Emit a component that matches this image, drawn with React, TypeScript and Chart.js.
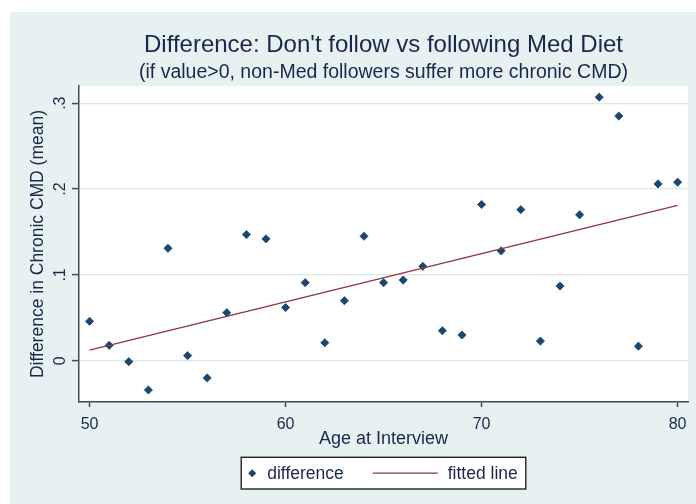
import { useEffect, useRef } from 'react';
import { Chart, registerables } from 'chart.js';

Chart.register(...registerables);

// ---- data ----
const ages = [50, 51, 52, 53, 54, 55, 56, 57, 58, 59, 60, 61, 62, 63, 64, 65, 66, 67, 68, 69, 70, 71, 72, 73, 74, 75, 76, 77, 78, 79, 80];
const differences = [0.046, 0.018, -0.001, -0.034, 0.131, 0.006, -0.020, 0.056, 0.147, 0.142, 0.062, 0.091, 0.021, 0.070, 0.145, 0.091, 0.094, 0.110, 0.035, 0.030, 0.182, 0.128, 0.176, 0.023, 0.087, 0.170, 0.307, 0.285, 0.017, 0.206, 0.208];
const fitAges = [50, 80];
const fitValues = [0.0125, 0.181];
const xTicks = [50, 60, 70, 80];
const xTickLabels = ['50', '60', '70', '80'];
const yTicks = [0, 0.1, 0.2, 0.3];
const yTickLabels = ['0', '.1', '.2', '.3'];
const titleText = "Difference: Don't follow vs following Med Diet";
const subtitleText = '(if value>0, non-Med followers suffer more chronic CMD)';
const xTitle = 'Age at Interview';
const yTitle = 'Difference in Chronic CMD (mean)';
const legendLabels = ['difference', 'fitted line'];

// ---- styles ----
const FONT = "'Liberation Sans', Arial, sans-serif";
const TEXT = '#18284a';
const BG = '#e7f1f2';
const GRID = '#d9e7ea';
const AXIS = '#4a4a4a';
const NAVY = '#1a476f';
const MAROON = '#90353b';

const plotBgPlugin = {
  id: 'plotBg',
  beforeDraw(chart: any) {
    const { ctx, chartArea: a } = chart;
    ctx.save();
    ctx.fillStyle = '#ffffff';
    ctx.fillRect(a.left, a.top, a.right - a.left, a.bottom - a.top);
    ctx.restore();
  },
};

const yTickLabelPlugin = {
  id: 'yTickLabels',
  afterDraw(chart: any) {
    const { ctx, chartArea } = chart;
    const ys = chart.scales.y;
    ctx.save();
    ctx.font = `16px ${FONT}`;
    ctx.fillStyle = TEXT;
    ctx.textAlign = 'center';
    ctx.textBaseline = 'middle';
    yTicks.forEach((v, i) => {
      const py = ys.getPixelForValue(v);
      ctx.save();
      ctx.translate(chartArea.left - 18.5, py);
      ctx.rotate(-Math.PI / 2);
      ctx.fillText(yTickLabels[i], 0, 0);
      ctx.restore();
    });
    ctx.restore();
  },
};

const legendPlugin = {
  id: 'boxLegend',
  afterDraw(chart: any) {
    const { ctx, chartArea } = chart;
    ctx.save();
    ctx.font = `17.5px ${FONT}`;
    const w1 = ctx.measureText(legendLabels[0]).width;
    const w2 = ctx.measureText(legendLabels[1]).width;
    const boxW = 26 + w1 + 29 + 65 + 10 + w2 + 8;
    const boxH = 31.7;
    const cx = (chartArea.left + chartArea.right) / 2;
    const left = cx - boxW / 2;
    const top = chartArea.bottom + 55.3;
    const midY = top + boxH / 2;
    ctx.fillStyle = '#ffffff';
    ctx.fillRect(left, top, boxW, boxH);
    ctx.strokeStyle = '#222222';
    ctx.lineWidth = 1.4;
    ctx.strokeRect(left, top, boxW, boxH);
    // marker
    const mx = left + 11;
    const r = 4;
    ctx.fillStyle = NAVY;
    ctx.beginPath();
    ctx.moveTo(mx, midY - r);
    ctx.lineTo(mx + r, midY);
    ctx.lineTo(mx, midY + r);
    ctx.lineTo(mx - r, midY);
    ctx.closePath();
    ctx.fill();
    ctx.fillStyle = TEXT;
    ctx.textAlign = 'left';
    ctx.textBaseline = 'middle';
    const t1 = left + 26;
    ctx.fillText(legendLabels[0], t1, midY + 1);
    const l1 = t1 + w1 + 29;
    ctx.strokeStyle = MAROON;
    ctx.lineWidth = 1.3;
    ctx.beginPath();
    ctx.moveTo(l1, midY);
    ctx.lineTo(l1 + 65, midY);
    ctx.stroke();
    ctx.fillText(legendLabels[1], l1 + 65 + 10, midY + 1);
    ctx.restore();
  },
};

export default function App() {
  const ref = useRef<HTMLCanvasElement | null>(null);

  useEffect(() => {
    if (!ref.current) return;
    const chart = new Chart(ref.current, {
      type: 'scatter',
      data: {
        datasets: [
          {
            type: 'line',
            label: legendLabels[1],
            data: fitAges.map((a, i) => ({ x: a, y: fitValues[i] })),
            borderColor: MAROON,
            borderWidth: 1.3,
            pointRadius: 0,
            showLine: true,
            fill: false,
            order: 0,
          } as any,
          {
            type: 'scatter',
            label: legendLabels[0],
            data: ages.map((a, i) => ({ x: a, y: differences[i] })),
            pointStyle: 'rectRot',
            pointRadius: 4.1,
            backgroundColor: NAVY,
            borderColor: NAVY,
            borderWidth: 0.8,
            order: 1,
          } as any,
        ],
      },
      options: {
        animation: false,
        responsive: false,
        devicePixelRatio: 1,
        layout: { padding: { left: 0, right: 8, top: 0, bottom: 52 } },
        plugins: {
          legend: { display: false },
          tooltip: { enabled: false },
          title: {
            display: true,
            text: titleText,
            fullSize: false,
            color: TEXT,
            font: { family: FONT, size: 24, weight: 'normal', lineHeight: 1.2 },
            padding: { top: 18.6, bottom: 0 },
          },
          subtitle: {
            display: true,
            text: subtitleText,
            fullSize: false,
            color: TEXT,
            font: { family: FONT, size: 19.5, weight: 'normal', lineHeight: 1.2 },
            padding: { top: 1.4, bottom: 1.8 },
          },
        },
        scales: {
          x: {
            type: 'linear',
            min: 49.46,
            max: 80.53,
            afterBuildTicks: (s: any) => {
              s.ticks = xTicks.map((v) => ({ value: v }));
            },
            afterFit: (s: any) => {
              s.height = 50;
            },
            grid: {
              drawOnChartArea: false,
              drawTicks: true,
              tickLength: 5,
              tickColor: AXIS,
              tickWidth: 1.5,
            },
            border: { display: true, color: AXIS, width: 1.5 },
            ticks: {
              color: TEXT,
              font: { family: FONT, size: 16 },
              padding: 7.5,
              maxRotation: 0,
              autoSkip: false,
              callback: (v: any) => {
                const i = xTicks.indexOf(Number(v));
                return i >= 0 ? xTickLabels[i] : '';
              },
            },
            title: {
              display: true,
              text: xTitle,
              color: TEXT,
              font: { family: FONT, size: 18, lineHeight: 1.2 },
              padding: { top: 0, bottom: 2.5 },
            },
          },
          y: {
            type: 'linear',
            min: -0.048,
            max: 0.32,
            afterBuildTicks: (s: any) => {
              s.ticks = yTicks.map((v) => ({ value: v }));
            },
            afterFit: (s: any) => {
              s.width = 69;
            },
            grid: {
              color: GRID,
              lineWidth: 1.2,
              drawTicks: true,
              tickLength: 7,
              tickColor: AXIS,
              tickWidth: 1.5,
            },
            border: { display: true, color: AXIS, width: 1.5 },
            ticks: { display: false },
            title: {
              display: true,
              text: yTitle,
              color: TEXT,
              font: { family: FONT, size: 17.5, lineHeight: 1.2 },
              padding: { top: 17.5, bottom: 0 },
            },
          },
        },
      } as any,
      plugins: [plotBgPlugin, yTickLabelPlugin, legendPlugin],
    });
    return () => chart.destroy();
  }, []);

  return (
    <div
      style={{
        position: 'absolute',
        left: 10,
        top: 12,
        width: 686,
        height: 492,
        background: BG,
      }}
    >
      <canvas ref={ref} width={686} height={492} style={{ display: 'block' }} />
    </div>
  );
}
